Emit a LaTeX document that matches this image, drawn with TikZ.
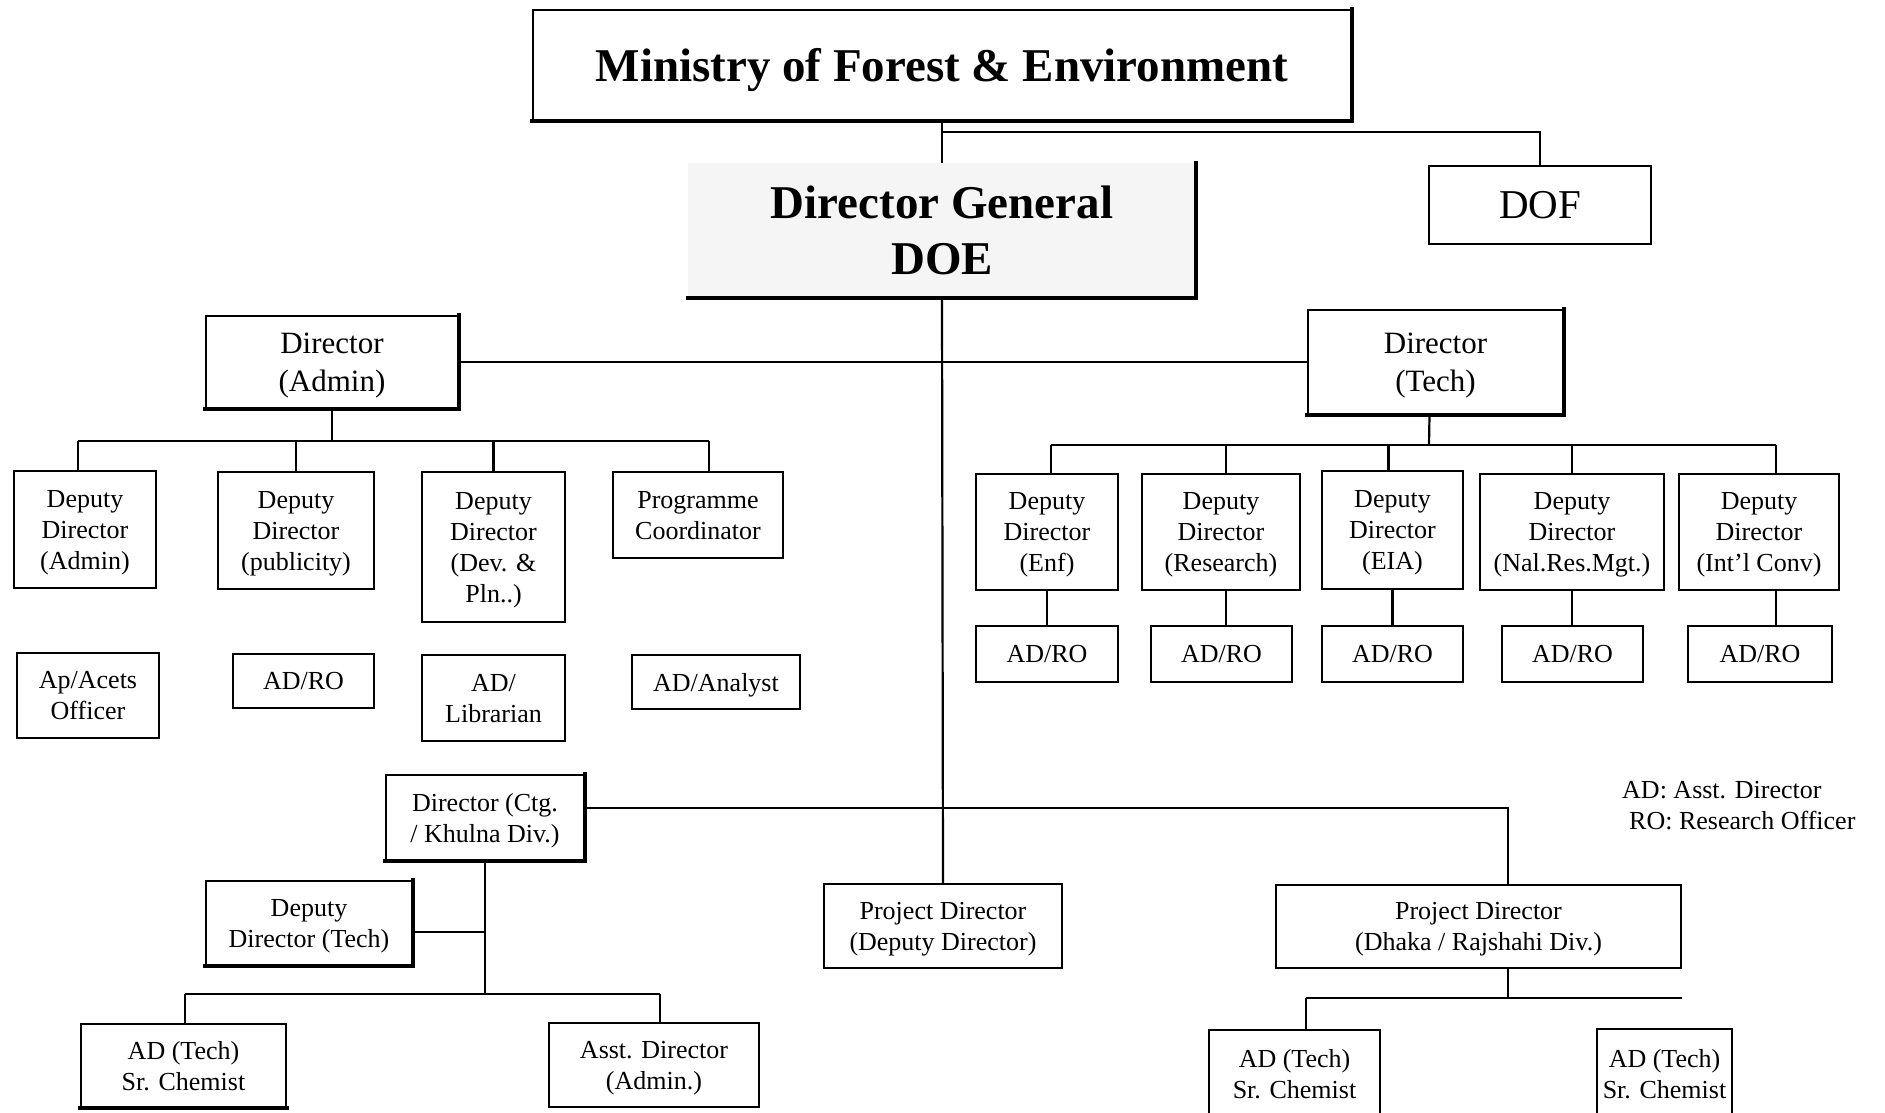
\documentclass[tikz,border=0pt]{standalone}
\usepackage{fontspec}
\setmainfont{Liberation Serif}
\tikzset{
  box/.style={draw, line width=1.6pt, align=center, inner sep=0pt, text depth=0pt, font=\fontsize{26}{31}\selectfont},
  bigbold/.style={font=\fontsize{47}{56}\selectfont\bfseries},
  mid/.style={font=\fontsize{31}{38}\selectfont},
  link/.style={line width=2.2pt},
  shadeedge/.style={line width=4.5pt, line cap=rect},
  legend/.style={anchor=west, inner sep=0pt, font=\fontsize{26}{31}\selectfont},
}
\newcommand\obox[7][]{\node[box,#1,minimum width={(#5-#3)*1pt},minimum height={(#6-#4)*1pt}] (#2) at ({(#3+#5)/2},{(#4+#6)/2}) {#7};}
\newcommand\shd[1]{\draw[shadeedge] (#1.north east) -- (#1.south east) -- (#1.south west);}
\begin{document}
\begin{tikzpicture}[x=1pt,y=-1pt]
\useasboundingbox (0,0) rectangle (1885,1113);
\fill[white] (0,0) rectangle (1885,1113);
\clip (0,0) rectangle (1885,1113);

% top level
\obox[bigbold]{ministry}{533}{10}{1351}{120}{Ministry of Forest \& Environment}
\shd{ministry}
\node[bigbold, align=center, inner sep=0pt, fill=black!4, minimum width=508pt, minimum height=135pt] (dg) at (942,230.5) {Director General\\DOE};
\draw[shadeedge] (dg.north east) -- (dg.south east) -- (dg.south west);
\obox[font=\fontsize{41}{48}\selectfont]{dof}{1429}{166}{1651}{244}{DOF}

% directors
\obox[mid]{dira}{206}{316}{458}{408}{Director\\(Admin)}
\shd{dira}
\obox[mid]{dirt}{1308}{310}{1563}{414}{Director\\(Tech)}
\shd{dirt}

% admin side
\obox{dda}{14}{471}{156}{588}{Deputy\\Director\\(Admin)}
\obox{ddp}{218}{472}{374}{589}{Deputy\\Director\\(publicity)}
\obox{ddd}{422}{472}{565}{622}{Deputy\\Director\\(Dev. \&\\Pln..)}
\obox{pc}{613}{472}{783}{558}{Programme\\Coordinator}
\obox{aao}{17}{653}{159}{738}{Ap/Acets\\Officer}
\obox{adro}{233}{654}{374}{708}{AD/RO}
\obox{adl}{422}{655}{565}{741}{AD/\\Librarian}
\obox{ada}{632}{655}{800}{709}{AD/Analyst}

% tech side
\obox{den}{976}{474}{1118}{590}{Deputy\\Director\\(Enf)}
\obox{der}{1142}{474}{1300}{590}{Deputy\\Director\\(Research)}
\obox{dei}{1322}{471}{1463}{589}{Deputy\\Director\\(EIA)}
\obox{dnr}{1480}{474}{1664}{590}{Deputy\\Director\\(Nal.Res.Mgt.)}
\obox{dic}{1679}{474}{1839}{590}{Deputy\\Director\\(Int’l Conv)}
\obox{ra}{976}{626}{1118}{682}{AD/RO}
\obox{rb}{1151}{626}{1292}{682}{AD/RO}
\obox{rc}{1322}{626}{1463}{682}{AD/RO}
\obox{rd}{1502}{626}{1643}{682}{AD/RO}
\obox{re}{1688}{626}{1832}{682}{AD/RO}

% lower part
\obox{ctg}{386}{775}{584}{860}{Director (Ctg.\\/ Khulna Div.)}
\shd{ctg}
\obox{ddt}{206}{881}{412}{965}{Deputy\\Director (Tech)}
\shd{ddt}
\obox{adta}{81}{1024}{286}{1107}{AD (Tech)\\Sr. Chemist}
\draw[shadeedge] (adta.south east) -- (adta.south west);
\obox{asd}{549}{1023}{759}{1107}{Asst. Director\\(Admin.)}
\obox{pdd}{824}{884}{1062}{968}{Project Director\\(Deputy Director)}
\obox{pdr}{1276}{885}{1681}{968}{Project Director\\(Dhaka / Rajshahi Div.)}
\obox{adtb}{1209}{1030}{1380}{1118}{AD (Tech)\\Sr. Chemist}
\obox{adtc}{1597}{1029}{1732}{1118}{AD (Tech)\\Sr. Chemist}

% legend
\node[legend] (lga) at (1622,790) {AD: Asst. Director};
\node[legend] (lgb) at (1629,821) {RO: Research Officer};

% connectors: top
\coordinate (ja) at (942,132);
\draw[link] (ministry.south) -- (dg.north);
\draw[link] (ja) -| (dof.north);
\draw[link] (dg.south) -- (pdd.north);
\draw[link] (dira.east) -- (dirt.west);

% admin bus
\coordinate (ba) at (332,441);
\coordinate (bal) at (78,441);
\coordinate (bar) at (709,441);
\draw[link] (dira.south) -- (ba);
\draw[link] (bal) -- (bar);
\draw[link] (bal) -- ([xshift=-7pt]dda.north);
\draw[link] (ddp.north |- ba) -- (ddp.north);
\draw[link] (ddd.north |- ba) -- (ddd.north);
\draw[link] (bar) -- ([xshift=11pt]pc.north);

% tech bus
\coordinate (bt) at (1429,445);
\coordinate (btl) at (1051,445);
\coordinate (btr) at (1776,445);
\draw[link] ([xshift=-6pt]dirt.south) -- (bt);
\draw[link] (btl) -- (btr);
\draw[link] (btl) -- ([xshift=4pt]den.north);
\draw[link] ([xshift=5pt]der.north |- bt) -- ([xshift=5pt]der.north);
\draw[link] ([xshift=-4pt]dei.north |- bt) -- ([xshift=-4pt]dei.north);
\draw[link] (dnr.north |- bt) -- (dnr.north);
\draw[link] (btr) -- ([xshift=17pt]dic.north);
\draw[link] (den.south) -- (ra.north);
\draw[link] ([xshift=5pt]der.south) -- ([xshift=5pt]der.south |- rb.north);
\draw[link] (dei.south) -- (dei.south |- rc.north);
\draw[link] (dnr.south) -- (dnr.south |- rd.north);
\draw[link] ([xshift=17pt]dic.south) -- ([xshift=17pt]dic.south |- re.north);

% Ctg / Khulna
\coordinate (jc) at (1508,808);
\draw[link] (ctg.east |- jc) -- (jc) -- (jc |- pdr.north);
\coordinate (jt) at (485,932);
\coordinate (bc) at (485,994);
\coordinate (bcl) at (185,994);
\coordinate (bcr) at (660,994);
\draw[link] (ctg.south) -- (bc);
\draw[link] (ddt.east |- jt) -- (jt);
\draw[link] (bcl) -- (bcr);
\draw[link] (bcl) -- (bcl |- adta.north);
\draw[link] (bcr) -- (bcr |- asd.north);

% Dhaka / Rajshahi
\coordinate (bd) at (1508,998);
\coordinate (bdl) at (1306,998);
\draw[link] (jc |- pdr.south) -- (bd);
\draw[link] (bdl) -- (pdr.south east |- bd);
\draw[link] (bdl) -- (bdl |- adtb.north);
\end{tikzpicture}
\end{document}
